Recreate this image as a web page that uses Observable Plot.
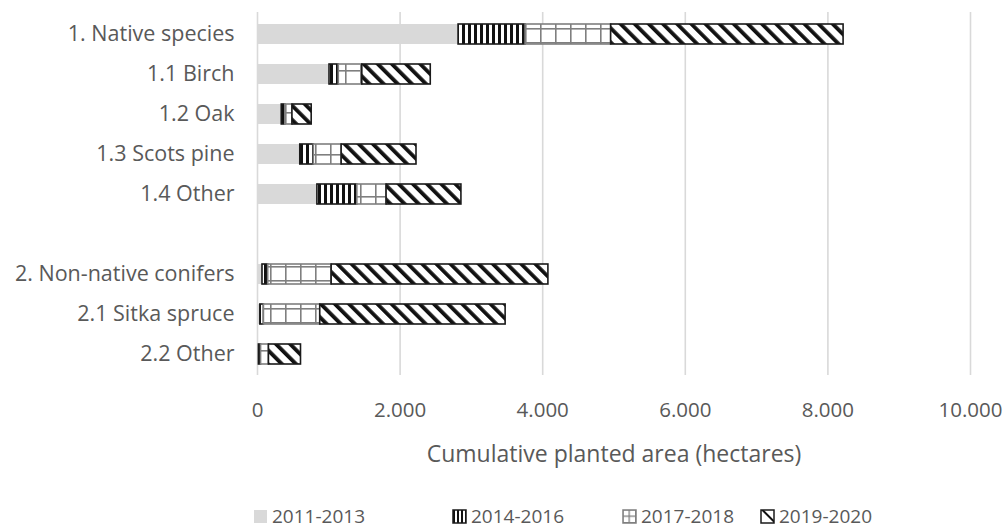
<!DOCTYPE html>
<html><head><meta charset="utf-8">
<script src="https://cdn.jsdelivr.net/npm/d3@7"></script>
<script src="https://cdn.jsdelivr.net/npm/@observablehq/plot@0.6"></script>
<style>
body{margin:0;background:#fff;font-family:"Open Sans",sans-serif;color:#595959;overflow:hidden;}
#wrap{position:relative;width:1007px;height:530px;overflow:hidden;}
#legend{position:absolute;left:0;top:503px;width:1007px;height:26px;}
.li{position:absolute;top:0;height:26px;line-height:26px;display:flex;align-items:center;font-size:19px;color:#595959;}
.li svg{margin-right:4px;}
</style></head><body>
<svg width="0" height="0" style="position:absolute">
<defs>
<pattern id="pVert" patternUnits="userSpaceOnUse" width="6" height="10">
<rect width="6" height="10" fill="#fff"/><rect x="0" width="3" height="10" fill="#111"/>
</pattern>
<pattern id="pGrid" patternUnits="userSpaceOnUse" width="15" height="14">
<rect width="15" height="14" fill="#fff"/>
<rect x="0" y="0" width="1.6" height="14" fill="#7f7f7f"/>
<rect x="0" y="0" width="15" height="1.6" fill="#7f7f7f"/>
</pattern>
<pattern id="pDiag" patternUnits="userSpaceOnUse" width="10" height="10" patternTransform="rotate(-45)">
<rect width="10" height="10" fill="#fff"/><rect x="0" width="3.8" height="10" fill="#111"/>
</pattern>
<pattern id="lVert" patternUnits="userSpaceOnUse" width="4" height="10">
<rect width="4" height="10" fill="#fff"/><rect x="1" width="2" height="10" fill="#111"/>
</pattern>
<pattern id="lGrid" patternUnits="userSpaceOnUse" width="6.5" height="6.5">
<rect width="6.5" height="6.5" fill="#fff"/>
<rect x="0" y="0" width="1.3" height="6.5" fill="#7f7f7f"/>
<rect x="0" y="0" width="6.5" height="1.3" fill="#7f7f7f"/>
</pattern>
<pattern id="lDiag" patternUnits="userSpaceOnUse" width="30" height="30" patternTransform="rotate(-45)">
<rect width="30" height="30" fill="#fff"/><rect x="-2" width="4" height="30" fill="#111"/>
</pattern>
</defs></svg>
<div id="wrap"><div id="chart"></div><div id="legend"></div></div>
<script>
const categories = ["1. Native species","1.1 Birch","1.2 Oak","1.3 Scots pine","1.4 Other","2. Non-native conifers","2.1 Sitka spruce","2.2 Other"];
const spacerRow = " ";
const periods = ["2011-2013","2014-2016","2017-2018","2019-2020"];
const v2011_2013 = [2820,1010,340,600,840,70,40,20];
const v2014_2016 = [940,130,50,190,560,80,50,30];
const v2017_2018 = [1200,330,100,390,410,890,790,110];
const v2019_2020 = [3260,960,270,1050,1050,3040,2600,450];
const xTicks = [0,2000,4000,6000,8000,10000];
const xLabel = "Cumulative planted area (hectares)";

const fills = ["#d9d9d9","url(#pVert)","url(#pGrid)","url(#pDiag)"];
const legendFills = ["#d9d9d9","url(#lVert)","url(#lGrid)","url(#lDiag)"];
const strokes = ["none","#1a1a1a","#7f7f7f","#1a1a1a"];

const series = [v2011_2013,v2014_2016,v2017_2018,v2019_2020];
const data = [];
periods.forEach((p,i)=>categories.forEach((c,j)=>data.push({cat:c,period:p,value:series[i][j]})));

const yDomain = [...categories.slice(0,5), spacerRow, ...categories.slice(5)];
const fmt = d3.formatLocale({decimal:",",thousands:".",grouping:[3],currency:["",""]}).format(",");

const barMarks = periods.map((p,i)=>Plot.barX(data, Plot.filter(d=>d.period===p, Plot.stackX({
  x:"value", y:"cat", fill:"period", order: periods,
  stroke: strokes[i], strokeWidth: 1.6
}))));

const chart = Plot.plot({
  width:1007, height:490,
  marginLeft:257, marginRight:37, marginTop:12, marginBottom:115,
  style:{fontFamily:"'Open Sans', sans-serif", fontSize:"20px", color:"#595959", background:"#fff", overflow:"visible"},
  x:{domain:[0,10000], axis:null},
  y:{domain:yDomain, type:"band", paddingInner:0.5, paddingOuter:0.25, axis:null},
  color:{domain:periods, range:fills},
  marks:[
    Plot.ruleX(xTicks, {stroke:"#d9d9d9", strokeWidth:1.6}),
    ...barMarks,
    Plot.axisY({tickSize:0, tickPadding:23, fontSize:21.5, fill:"#595959", label:null}),
    Plot.axisX(xTicks, {tickSize:0, tickPadding:27, tickFormat:fmt, fontSize:20.5, fill:"#595959", label:null}),
    Plot.text([xLabel], {frameAnchor:"bottom", dy:86, fontSize:23, fill:"#595959"})
  ]
});
document.getElementById("chart").appendChild(chart);

const legendPos = [253,452,622,760];
const leg = document.getElementById("legend");
periods.forEach((p,i)=>{
  const div = document.createElement("div");
  div.className="li"; div.style.left = legendPos[i]+"px";
  const st = strokes[i]==="none" ? "" : `stroke="${strokes[i]}" stroke-width="1.5"`;
  div.innerHTML = `<svg width="15" height="15"><rect x="1" y="1" width="13" height="13" fill="${legendFills[i]}" ${st}/></svg><span>${p}</span>`;
  leg.appendChild(div);
});
</script>
</body></html>
